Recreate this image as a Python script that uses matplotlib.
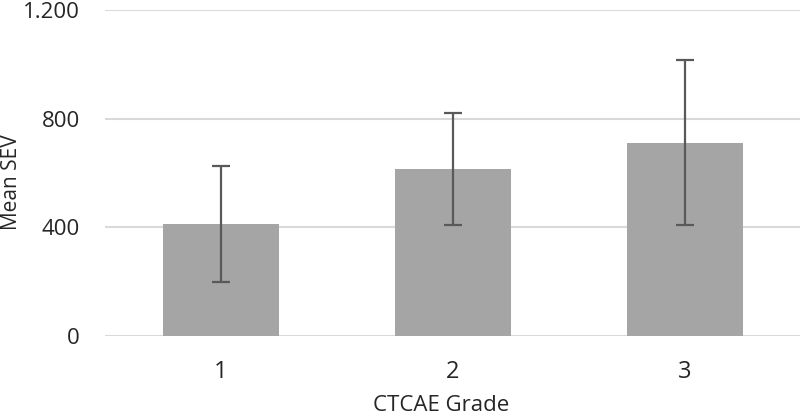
import matplotlib
matplotlib.use("Agg")
import matplotlib.pyplot as plt
from matplotlib.ticker import FuncFormatter

categories = ["1", "2", "3"]
mean_sev = [411, 614, 712]
err = [213, 206, 304]
yticks = [0, 400, 800, 1200]

plt.rcParams['font.family'] = ['Open Sans', 'DejaVu Sans']

W, H = 800, 418
fig = plt.figure(figsize=(W / 100, H / 100), dpi=100)
ax = fig.add_axes([105 / W, 1 - 336 / H, 696 / W, 326 / H])

x = range(len(categories))
ax.bar(x, mean_sev, width=0.496, color="#a5a5a5", zorder=2)
ax.errorbar(x, mean_sev, yerr=err, fmt='none', ecolor="#595959",
            elinewidth=1.6, capsize=6.4, capthick=1.6, zorder=3)

ax.set_xlim(-0.5, 2.5)
ax.set_ylim(0, 1200)
ax.set_yticks(yticks)
ax.yaxis.set_major_formatter(FuncFormatter(lambda v, p: f"{int(v):,}".replace(",", ".")))
ax.set_xticks(list(x))
ax.set_xticklabels(categories)

ax.grid(axis='y', color="#d9d9d9", linewidth=1.5, zorder=0)
ax.set_axisbelow(True)
for s in ax.spines.values():
    s.set_visible(False)
ax.tick_params(axis='both', length=0, colors="#262626")
ax.tick_params(axis='y', labelsize=16, pad=18)
ax.tick_params(axis='x', labelsize=17, pad=17)

fig.text(11.5 / W, 1 - 182 / H, "Mean SEV", rotation=90, ha='center', va='center',
         fontsize=15, color="#262626")
fig.text(441 / W, 1 - 411 / H, "CTCAE Grade", ha='center', va='baseline',
         fontsize=16, color="#262626")

fig.savefig("out.png", dpi=100)
